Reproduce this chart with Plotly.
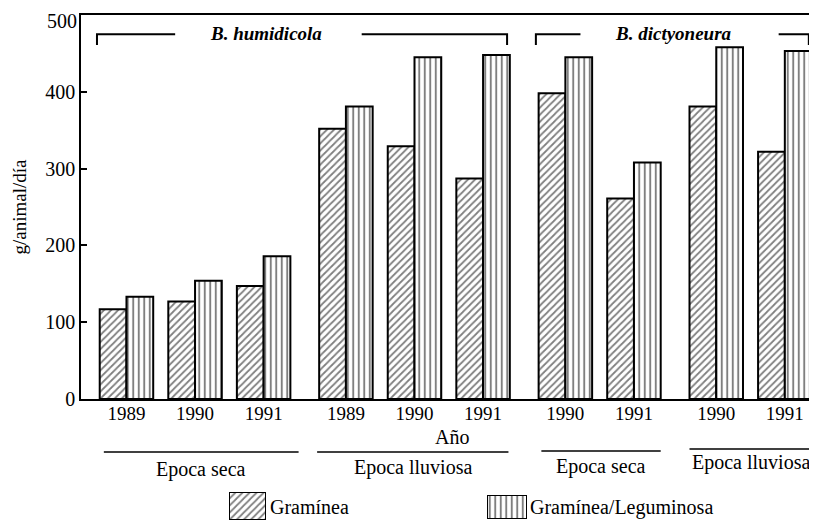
import plotly.graph_objects as go

# ---------------- data ----------------
years = ["1989", "1990", "1991", "1989", "1990", "1991", "1990", "1991", "1990", "1991"]
section_of_bar = [0, 0, 0, 1, 1, 1, 2, 2, 3, 3]
section_labels = ["Epoca seca", "Epoca lluviosa", "Epoca seca", "Epoca lluviosa"]
species_labels = ["B. humidicola", "B. dictyoneura"]
graminea = [117, 127, 147, 352, 329, 287, 398, 261, 381, 322]
gram_leg = [133, 154, 186, 381, 445, 448, 445, 308, 458, 453]
series_names = ["Gramínea", "Gramínea/Leguminosa"]
y_ticks = [0, 100, 200, 300, 400, 500]
y_tick_labels = ["0", "100", "200", "300", "400", "500"]

# ---------------- layout helpers ----------------
# the page has an 8px body margin, so the figure is sized to fit the window after it
OFF = 8
W, H = 817 - OFF, 523 - OFF
PLOT_L, PLOT_R, PLOT_T, PLOT_B = 81, 815, 15, 521   # page pixels
ML, MR, MT = PLOT_L - OFF, W - (PLOT_R - OFF), PLOT_T - OFF
MB = H - (PLOT_B - OFF)
PW, PH = W - ML - MR, H - MT - MB
AXIS_BOTTOM_PX = 399


def px_x(px):
    return (px - PLOT_L) / PW


def px_y(py):
    return (PLOT_B - py) / PH


SECTION_GAP = 0.2
xpos = [i + SECTION_GAP * s for i, s in enumerate(section_of_bar)]
BW = 0.39
FONT = "Liberation Serif, Times New Roman, serif"
patterns = [dict(shape="/", size=5, solidity=0.35, fgcolor="black", bgcolor="white"),
            dict(shape="|", size=5.5, solidity=0.35, fgcolor="black", bgcolor="white")]

fig = go.Figure()
for vals, name, pat, off in zip([graminea, gram_leg], series_names, patterns, [-BW, 0]):
    fig.add_trace(go.Bar(
        x=xpos, y=vals, name=name, width=BW, offset=off, showlegend=False,
        marker=dict(color="white", line=dict(color="black", width=2), pattern=pat),
    ))

# legend swatches drawn as single bars filling small axes
swatch_boxes = [((229, 266), (492, 520)), ((487, 527), (495, 519))]
swatch_text_x = [268, 528]
for k, (((x0, x1), (y0, y1)), pat, name, tx) in enumerate(zip(swatch_boxes, patterns, series_names, swatch_text_x)):
    ax = k + 2
    fig.add_trace(go.Bar(
        x=[0], y=[1], width=1, showlegend=False, hoverinfo="skip",
        xaxis=f"x{ax}", yaxis=f"y{ax}",
        marker=dict(color="white", line=dict(color="black", width=2), pattern=pat),
    ))
    fig.update_layout({
        f"xaxis{ax}": dict(domain=[px_x(x0), px_x(x1)], range=[-0.5, 0.5], visible=False,
                           anchor=f"y{ax}", fixedrange=True),
        f"yaxis{ax}": dict(domain=[px_y(y1), px_y(y0)], range=[0, 1], visible=False,
                           anchor=f"x{ax}", fixedrange=True),
    })

shapes = []
annotations = []

for tx, name in zip(swatch_text_x, series_names):
    annotations.append(dict(x=px_x(tx), y=px_y(507), xref="paper", yref="paper", text=name,
                            showarrow=False, font=dict(family=FONT, size=20, color="black"),
                            xanchor="left", yanchor="middle"))

# top y label sits a little below the frame (as in the original), drawn separately
annotations.append(dict(x=px_x(79), y=px_y(21), xref="paper", yref="paper", text=y_tick_labels[-1],
                        showarrow=False, font=dict(family=FONT, size=20, color="black"),
                        xanchor="right", yanchor="middle"))
axis_tick_text = y_tick_labels[:-1] + [""]

# section underlines and labels (below axis)
sec_spans = [(-0.33, 2.51), (2.78, 5.57), (6.05, 7.79), (8.21, 9.99)]
sec_line_y = [452, 452, 451, 449]
sec_text_y = [469, 468, 466, 462]
for (a, b), lab, ly, ty in zip(sec_spans, section_labels, sec_line_y, sec_text_y):
    shapes.append(dict(type="line", xref="x", yref="paper", x0=a, x1=b, y0=px_y(ly), y1=px_y(ly),
                       line=dict(color="black", width=1.5)))
    annotations.append(dict(x=(a + b) / 2, y=px_y(ty), xref="x", yref="paper", text=lab,
                            showarrow=False, font=dict(family=FONT, size=20, color="black"),
                            xanchor="center", yanchor="middle"))

annotations.append(dict(x=4.745, y=px_y(437), xref="x", yref="paper", text="Año", showarrow=False,
                        font=dict(family=FONT, size=20, color="black"),
                        xanchor="center", yanchor="middle"))

# species brackets at top
brackets = [
    ((-0.43, 0.71), (3.43, 5.55), 2.03, species_labels[0]),
    ((5.97, 6.62), (9.51, 9.95), 7.98, species_labels[1]),
]
YB, YT = 475, 461
for (l0, l1), (r0, r1), cx, lab in brackets:
    shapes.append(dict(type="path", xref="x", yref="y",
                       path=f"M{l0},{YT} L{l0},{YB} L{l1},{YB}",
                       line=dict(color="black", width=2)))
    shapes.append(dict(type="path", xref="x", yref="y",
                       path=f"M{r0},{YB} L{r1},{YB} L{r1},{YT}",
                       line=dict(color="black", width=2)))
    annotations.append(dict(x=cx, y=476, xref="x", yref="y", text=f"<b><i>{lab}</i></b>",
                            showarrow=False, font=dict(family=FONT, size=19, color="black"),
                            xanchor="center", yanchor="middle"))

fig.update_layout(
    width=W, height=H,
    margin=dict(l=ML, r=MR, t=MT, b=MB, autoexpand=False),
    paper_bgcolor="white", plot_bgcolor="white",
    font=dict(family=FONT, color="black", size=19),
    barmode="overlay",
    showlegend=False,
    shapes=shapes, annotations=annotations,
    xaxis=dict(range=[-0.663, 10.04], tickmode="array", tickvals=xpos, ticktext=years,
               domain=[0, 1], anchor="y", automargin=False,
               showline=True, linecolor="black", linewidth=1.5, mirror=True,
               ticks="", showgrid=False, zeroline=False, ticklabelstandoff=-4,
               ticklabeloverflow="allow",
               tickfont=dict(family=FONT, size=19, color="black")),
    yaxis=dict(range=[0, 500], tickmode="array", tickvals=y_ticks, ticktext=axis_tick_text,
               domain=[px_y(AXIS_BOTTOM_PX), 1], anchor="x", automargin=False,
               showline=True, linecolor="black", linewidth=1.5,
               ticks="inside", ticklen=6, tickwidth=2, tickcolor="black",
               showgrid=False, zeroline=False, ticklabeloverflow="allow",
               tickfont=dict(family=FONT, size=20, color="black"),
               title=dict(text="g/animal/día", font=dict(family=FONT, size=19, color="black"),
                          standoff=14)),
)

fig.write_html("out.html")
